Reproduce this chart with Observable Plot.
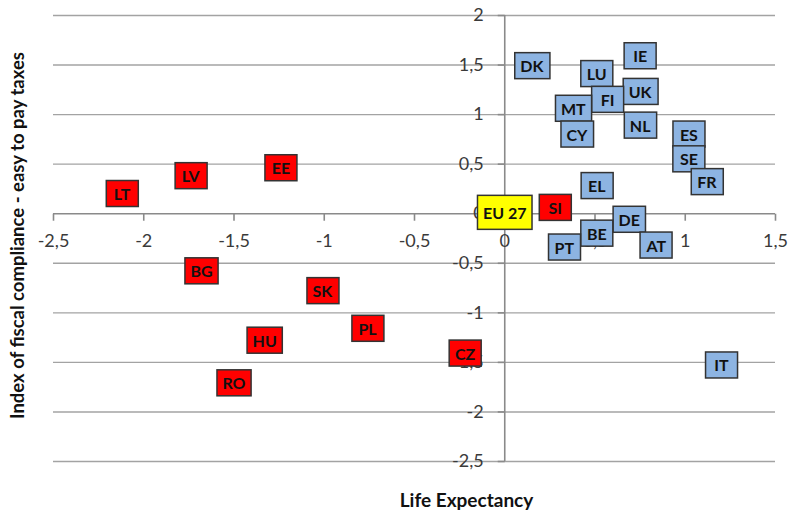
<!DOCTYPE html>
<html>
<head>
<meta charset="utf-8">
<script src="https://cdn.jsdelivr.net/npm/d3@7"></script>
<script src="https://cdn.jsdelivr.net/npm/@observablehq/plot@0.6"></script>
<style>
  html, body { margin: 0; padding: 0; background: #fff; }
  svg { display: block; }
</style>
</head>
<body>
<script>
// ---- data ----
const countries = ["DK","IE","LU","UK","FI","MT","CY","NL","ES","SE","FR","EL","DE","BE","PT","AT","IT",
                   "LT","LV","EE","BG","SK","PL","HU","RO","CZ","SI","EU 27"];
const lifeExpectancy = [0.15, 0.75, 0.51, 0.75, 0.57, 0.38, 0.40, 0.75, 1.02, 1.02, 1.12, 0.51, 0.69, 0.51, 0.33, 0.84, 1.20,
                        -2.12, -1.74, -1.24, -1.68, -1.01, -0.76, -1.33, -1.50, -0.22, 0.28, 0.00];
const compliance = [1.48, 1.58, 1.40, 1.22, 1.14, 1.05, 0.79, 0.88, 0.79, 0.54, 0.31, 0.27, -0.07, -0.21, -0.35, -0.33, -1.54,
                    0.19, 0.37, 0.45, -0.59, -0.79, -1.17, -1.29, -1.72, -1.42, 0.05, 0.00];
const group = ["high","high","high","high","high","high","high","high","high","high","high","high","high","high","high","high","high",
               "low","low","low","low","low","low","low","low","low","low","average"];
const xTicks = [-2.5, -2, -1.5, -1, -0.5, 0, 0.5, 1, 1.5];
const yTicks = [-2.5, -2, -1.5, -1, -0.5, 0, 0.5, 1, 1.5, 2];
const xTitle = "Life Expectancy";
const yTitle = "Index of fiscal compliance - easy to pay taxes";

const groupFill = {high: "#8DB4E2", low: "#FF0000", average: "#FFFF00"};
const data = countries.map((c, i) => ({country: c, x: lifeExpectancy[i], y: compliance[i], group: group[i]}));
const fmt = d => String(d).replace(".", ",");

const tickDown = {draw(ctx) { ctx.moveTo(0, 0); ctx.lineTo(0, 7); }};
const tickLeft = {draw(ctx) { ctx.moveTo(0, 0); ctx.lineTo(-7, 0); }};

const chart = Plot.plot({
  width: 789,
  height: 510,
  marginLeft: 53,
  marginRight: 14,
  marginTop: 15,
  marginBottom: 49,
  x: {domain: [-2.5, 1.5], axis: null},
  y: {domain: [-2.5, 2], axis: null},
  style: {fontFamily: "Lato, sans-serif", background: "#fff"},
  marks: [
    Plot.ruleY(yTicks.filter(d => d !== 0), {y: d => d, x1: -2.5, x2: 1.5, stroke: "#a3a3a3", strokeWidth: 1.4}),
    Plot.ruleY([0], {x1: -2.5, x2: 1.5, stroke: "#8a8a8a", strokeWidth: 1.6}),
    Plot.ruleX([0], {y1: -2.5, y2: 2, stroke: "#8a8a8a", strokeWidth: 1.6}),
    Plot.dot(xTicks, {x: d => d, y: 0, symbol: tickDown, stroke: "#8a8a8a", strokeWidth: 1.6, fill: "none"}),
    Plot.dot(yTicks, {x: 0, y: d => d, symbol: tickLeft, stroke: "#8a8a8a", strokeWidth: 1.6, fill: "none"}),
    Plot.text(xTicks, {x: d => d, y: 0, dy: 28, text: fmt, fontSize: 18, fill: "#3a3a3a"}),
    Plot.text(yTicks, {x: 0, y: d => d, dx: -21, text: fmt, textAnchor: "end", fontSize: 18, fill: "#3a3a3a"}),
    Plot.text([yTitle], {frameAnchor: "left", textAnchor: "middle", rotate: -90, dx: -35, dy: -3, fontSize: 18.5, fontWeight: "bold", fill: "#111"}),
    Plot.text([xTitle], {frameAnchor: "bottom", textAnchor: "middle", dx: 52, dy: 45, fontSize: 19, fontWeight: "bold", fill: "#111"}),
    Plot.text(data, {x: "x", y: "y", text: "country", fontSize: 16, fontWeight: "bold", fill: "#111"})
  ]
});
document.body.appendChild(chart);

// label boxes sized to the rendered text (last text mark = country labels)
const textGroups = chart.querySelectorAll('g[aria-label="text"]');
const labelGroup = textGroups[textGroups.length - 1];
if (labelGroup) {
  const texts = Array.from(labelGroup.querySelectorAll("text"));
  texts.forEach((t, i) => {
    const b = t.getBBox();
    const d = data[i];
    const w = Math.max(32, b.width + 11);
    const h = d.group === "average" ? 34 : 26;
    const cx = b.x + b.width / 2;
    const cy = b.y + b.height / 2;
    const r = document.createElementNS("http://www.w3.org/2000/svg", "rect");
    r.setAttribute("x", cx - w / 2);
    r.setAttribute("y", cy - h / 2);
    r.setAttribute("width", w);
    r.setAttribute("height", h);
    r.setAttribute("fill", groupFill[d.group]);
    r.setAttribute("stroke", "#333");
    r.setAttribute("stroke-width", 1.5);
    if (t.getAttribute("transform")) r.setAttribute("transform", t.getAttribute("transform"));
    t.parentNode.insertBefore(r, t);
  });
}
</script>
</body>
</html>
